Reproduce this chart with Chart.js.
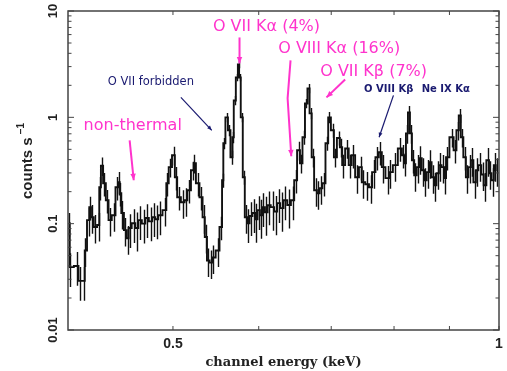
<!DOCTYPE html>
<html>
<head>
<meta charset="utf-8">
<script src="https://cdn.jsdelivr.net/npm/chart.js"></script>
<style>
  html, body { margin: 0; padding: 0; background: #fff; }
  #wrap { width: 507px; height: 371px; }
</style>
</head>
<body>
<div id="wrap"><canvas id="spec" width="507" height="371"></canvas></div>
<script>
// channel energy (keV)
let energies = [
  0.401, 0.402, 0.408, 0.410, 0.414, 0.415, 0.418, 0.419, 0.421, 0.424,
  0.427, 0.428, 0.430, 0.432, 0.435, 0.437, 0.441, 0.444, 0.446, 0.447,
  0.449, 0.452, 0.454, 0.456, 0.460, 0.463, 0.466, 0.470, 0.473, 0.477,
  0.480, 0.483, 0.486, 0.492, 0.494, 0.497, 0.501, 0.503, 0.506, 0.511,
  0.514, 0.517, 0.522, 0.523, 0.527, 0.531, 0.534, 0.536, 0.539, 0.542,
  0.545, 0.550, 0.554, 0.556, 0.557, 0.561, 0.563, 0.567, 0.568, 0.570,
  0.573, 0.575, 0.576, 0.579, 0.581, 0.584, 0.587, 0.590, 0.594, 0.597,
  0.600, 0.603, 0.606, 0.610, 0.613, 0.618, 0.622, 0.626, 0.630, 0.635,
  0.640, 0.645, 0.649, 0.653, 0.657, 0.660, 0.664, 0.667, 0.670, 0.673,
  0.677, 0.681, 0.685, 0.689, 0.694, 0.697, 0.702, 0.706, 0.711, 0.715,
  0.718, 0.724, 0.729, 0.733, 0.740, 0.745, 0.749, 0.756, 0.761, 0.766,
  0.772, 0.777, 0.782, 0.789, 0.794, 0.802, 0.811, 0.816, 0.819, 0.822,
  0.826, 0.829, 0.833, 0.837, 0.842, 0.846, 0.851, 0.855, 0.860, 0.864,
  0.869, 0.873, 0.878, 0.882, 0.888, 0.892, 0.895, 0.905, 0.911, 0.916,
  0.920, 0.924, 0.930, 0.934, 0.940, 0.944, 0.950, 0.954, 0.960, 0.966,
  0.970, 0.977, 0.981, 0.987, 0.991, 0.995
];
// counts s^-1
let counts = [
  0.101, 0.039, 0.040, 0.029, 0.029, 0.056, 0.108, 0.143, 0.115, 0.093,
  0.097, 0.220, 0.350, 0.240, 0.166, 0.108, 0.120, 0.220, 0.245, 0.193,
  0.126, 0.087, 0.073, 0.091, 0.101, 0.091, 0.108, 0.100, 0.113, 0.105,
  0.115, 0.110, 0.120, 0.134, 0.240, 0.340, 0.440, 0.273, 0.177, 0.159,
  0.166, 0.206, 0.318, 0.370, 0.240, 0.177, 0.115, 0.075, 0.045, 0.043,
  0.048, 0.056, 0.093, 0.256, 0.570, 1.00, 0.755, 0.421, 0.649, 1.44,
  2.37, 3.15, 2.37, 1.00, 0.273, 0.115, 0.101, 0.118, 0.126, 0.110,
  0.134, 0.120, 0.143, 0.128, 0.149, 0.143, 0.130, 0.156, 0.140, 0.166,
  0.150, 0.166, 0.256, 0.490, 0.370, 0.649, 1.35, 1.87, 1.09, 0.421,
  0.206, 0.193, 0.215, 0.240, 0.570, 1.00, 0.755, 0.421, 0.640, 0.523,
  0.355, 0.510, 0.355, 0.440, 0.273, 0.340, 0.245, 0.235, 0.220, 0.305,
  0.421, 0.470, 0.340, 0.268, 0.305, 0.355, 0.510, 0.440, 0.370, 0.707,
  1.11, 0.707, 0.395, 0.285, 0.340, 0.412, 0.318, 0.256, 0.305, 0.378,
  0.273, 0.230, 0.298, 0.355, 0.340, 0.268, 0.421, 0.649, 0.490, 0.755,
  1.04, 0.649, 0.421, 0.273, 0.340, 0.395, 0.245, 0.318, 0.355, 0.290,
  0.230, 0.395, 0.298, 0.256, 0.355, 0.318
];
// relative 1-sigma error of each channel
let errors = [
  0.25, 0.35, 0.35, 0.35, 0.35, 0.30, 0.30, 0.25, 0.30, 0.30,
  0.30, 0.25, 0.20, 0.25, 0.25, 0.30, 0.30, 0.25, 0.25, 0.25,
  0.30, 0.30, 0.30, 0.35, 0.35, 0.40, 0.35, 0.35, 0.35, 0.35,
  0.35, 0.35, 0.35, 0.30, 0.25, 0.20, 0.20, 0.25, 0.25, 0.30,
  0.30, 0.25, 0.20, 0.20, 0.25, 0.25, 0.30, 0.30, 0.30, 0.30,
  0.30, 0.30, 0.25, 0.15, 0.12, 0.10, 0.12, 0.15, 0.12, 0.10,
  0.08, 0.08, 0.08, 0.10, 0.15, 0.30, 0.35, 0.35, 0.35, 0.40,
  0.35, 0.40, 0.35, 0.40, 0.35, 0.40, 0.40, 0.35, 0.40, 0.35,
  0.40, 0.35, 0.25, 0.20, 0.20, 0.15, 0.10, 0.10, 0.12, 0.20,
  0.30, 0.30, 0.30, 0.25, 0.15, 0.12, 0.15, 0.20, 0.15, 0.20,
  0.25, 0.20, 0.25, 0.25, 0.30, 0.25, 0.30, 0.30, 0.30, 0.30,
  0.25, 0.25, 0.30, 0.30, 0.30, 0.30, 0.25, 0.25, 0.25, 0.20,
  0.15, 0.20, 0.25, 0.30, 0.30, 0.30, 0.30, 0.30, 0.30, 0.30,
  0.30, 0.30, 0.30, 0.30, 0.30, 0.30, 0.25, 0.20, 0.25, 0.20,
  0.15, 0.20, 0.25, 0.30, 0.30, 0.30, 0.30, 0.30, 0.30, 0.30,
  0.30, 0.30, 0.30, 0.30, 0.30, 0.30
];

let yTickValues = [0.01, 0.1, 1, 10];
let yTickLabels = ['0.01', '0.1', '1', '10'];
let xTickValues = [0.5, 0.6, 0.7, 0.8, 0.9, 1];
let xLabelValues = [0.5, 1];
let xLabelTexts = ['0.5', '1'];

const PINK = '#ff33cc';
const NAVY = '#1a1a70';

// line labels, anchored in data space (energy, counts) at the text baseline
let notes = [
  { text: 'O VII K\u03b1 (4%)',    e: 0.610, c: 6.42, color: PINK, font: '16px "DejaVu Sans"' },
  { text: 'O VIII K\u03b1 (16%)',  e: 0.712, c: 3.99, color: PINK, font: '16px "DejaVu Sans"' },
  { text: 'O VII K\u03b2 (7%)',    e: 0.766, c: 2.43, color: PINK, font: '16px "DejaVu Sans"' },
  { text: 'non-thermal',           e: 0.459, c: 0.755, color: PINK, font: '16px "DejaVu Sans"' },
  { text: 'O VIII K\u03b2',        e: 0.791, c: 1.72, color: NAVY, font: 'bold 10px "DejaVu Sans"' },
  { text: 'Ne IX K\u03b1',         e: 0.893, c: 1.72, color: NAVY, font: 'bold 10px "DejaVu Sans"' },
  { text: 'O VII forbidden',       e: 0.477, c: 2.00, color: NAVY, font: '11.5px "DejaVu Sans"' }
];
let arrows = [
  { pts: [[0.576, 5.64], [0.576, 3.21]], color: PINK, w: 2, head: 7 },
  { pts: [[0.642, 3.43], [0.638, 1.51], [0.643, 0.43]], color: PINK, w: 2, head: 7 },
  { pts: [[0.721, 2.27], [0.693, 1.54]], color: PINK, w: 2, head: 7 },
  { pts: [[0.456, 0.608], [0.460, 0.256]], color: PINK, w: 2, head: 7 },
  { pts: [[0.799, 1.61], [0.775, 0.649]], color: NAVY, w: 1.2, head: 5 },
  { pts: [[0.5085, 1.54], [0.543, 0.755]], color: NAVY, w: 1.2, head: 5 }
];

function drawArrow(ctx, pts, color, w, head) {
  ctx.strokeStyle = color;
  ctx.fillStyle = color;
  ctx.lineWidth = w;
  ctx.beginPath();
  ctx.moveTo(pts[0][0], pts[0][1]);
  for (let i = 1; i < pts.length; i++) ctx.lineTo(pts[i][0], pts[i][1]);
  ctx.stroke();
  let a = pts[pts.length - 2], b = pts[pts.length - 1];
  let ang = Math.atan2(b[1] - a[1], b[0] - a[0]);
  ctx.beginPath();
  ctx.moveTo(b[0], b[1]);
  ctx.lineTo(b[0] - head * Math.cos(ang - 0.4), b[1] - head * Math.sin(ang - 0.4));
  ctx.lineTo(b[0] - head * Math.cos(ang + 0.4), b[1] - head * Math.sin(ang + 0.4));
  ctx.closePath();
  ctx.fill();
}

const overlay = {
  id: 'overlay',
  afterDatasetsDraw(chart) {
    const { ctx, chartArea: a, scales: { x, y } } = chart;
    ctx.save();

    // error bars
    ctx.save();
    ctx.beginPath();
    ctx.rect(a.left, a.top, a.right - a.left, a.bottom - a.top);
    ctx.clip();
    ctx.strokeStyle = '#111';
    ctx.lineWidth = 1.4;
    ctx.beginPath();
    for (let i = 0; i < energies.length; i++) {
      let px = Math.round(x.getPixelForValue(energies[i])) + 0.5;
      ctx.moveTo(px, y.getPixelForValue(counts[i] * (1 + errors[i])));
      ctx.lineTo(px, y.getPixelForValue(counts[i] * (1 - errors[i])));
    }
    ctx.stroke();
    ctx.restore();

    // frame
    ctx.strokeStyle = '#444';
    ctx.lineWidth = 1.5;
    ctx.strokeRect(a.left, a.top, a.right - a.left, a.bottom - a.top);

    // y ticks, both sides, pointing in
    ctx.lineWidth = 1;
    ctx.beginPath();
    for (let d = 0; d < yTickValues.length; d++) {
      let py = y.getPixelForValue(yTickValues[d]);
      ctx.moveTo(a.left, py); ctx.lineTo(a.left + 6, py);
      ctx.moveTo(a.right, py); ctx.lineTo(a.right - 6, py);
      if (d < yTickValues.length - 1) {
        for (let m = 2; m <= 9; m++) {
          let pm = y.getPixelForValue(yTickValues[d] * m);
          ctx.moveTo(a.left, pm); ctx.lineTo(a.left + 3.5, pm);
          ctx.moveTo(a.right, pm); ctx.lineTo(a.right - 3.5, pm);
        }
      }
    }
    // x ticks, top and bottom
    xTickValues.forEach(v => {
      let px = x.getPixelForValue(v);
      ctx.moveTo(px, a.bottom); ctx.lineTo(px, a.bottom - 4);
      ctx.moveTo(px, a.top); ctx.lineTo(px, a.top + 4);
    });
    ctx.stroke();

    // tick labels
    ctx.fillStyle = '#222';
    ctx.font = 'bold 13px "Liberation Sans"';
    ctx.textAlign = 'center';
    ctx.textBaseline = 'alphabetic';
    yTickValues.forEach((v, i) => {
      ctx.save();
      ctx.translate(57, y.getPixelForValue(v));
      ctx.rotate(-Math.PI / 2);
      ctx.fillText(yTickLabels[i], 0, 0);
      ctx.restore();
    });
    ctx.font = 'bold 14px "Liberation Sans"';
    xLabelValues.forEach((v, i) => {
      ctx.fillText(xLabelTexts[i], x.getPixelForValue(v), 348);
    });

    // axis titles
    ctx.font = 'bold 13px "DejaVu Serif"';
    ctx.fillText('channel energy (keV)', (a.left + a.right) / 2, 366);

    ctx.save();
    ctx.translate(32, 161);
    ctx.rotate(-Math.PI / 2);
    ctx.textAlign = 'left';
    ctx.font = 'bold 15px "Liberation Sans"';
    let main = 'counts s';
    let wMain = ctx.measureText(main).width;
    ctx.font = 'bold 10px "Liberation Sans"';
    let sup = '\u22121';
    let wSup = ctx.measureText(sup).width;
    let x0 = -(wMain + wSup + 3) / 2;
    ctx.font = 'bold 15px "Liberation Sans"';
    ctx.fillText(main, x0, 0);
    ctx.font = 'bold 10px "Liberation Sans"';
    ctx.fillText(sup, x0 + wMain + 3, -8);
    ctx.restore();

    // annotations
    ctx.textAlign = 'center';
    notes.forEach(n => {
      ctx.font = n.font;
      ctx.fillStyle = n.color;
      ctx.fillText(n.text, x.getPixelForValue(n.e), y.getPixelForValue(n.c));
    });
    arrows.forEach(ar => {
      let pts = ar.pts.map(p => [x.getPixelForValue(p[0]), y.getPixelForValue(p[1])]);
      drawArrow(ctx, pts, ar.color, ar.w, ar.head);
    });

    ctx.restore();
  }
};

new Chart(document.getElementById('spec').getContext('2d'), {
  type: 'line',
  data: {
    datasets: [{
      data: energies.map((e, i) => ({ x: e, y: counts[i] })),
      borderColor: '#111',
      borderWidth: 1.9,
      pointRadius: 0,
      stepped: 'middle',
      fill: false
    }]
  },
  options: {
    responsive: false,
    animation: false,
    layout: { padding: { left: 68, top: 11, right: 8, bottom: 41 } },
    plugins: { legend: { display: false }, tooltip: { enabled: false } },
    scales: {
      x: { type: 'logarithmic', min: 0.4, max: 1.0, display: false },
      y: { type: 'logarithmic', min: 0.01, max: 10, display: false }
    }
  },
  plugins: [overlay]
});
</script>
</body>
</html>
